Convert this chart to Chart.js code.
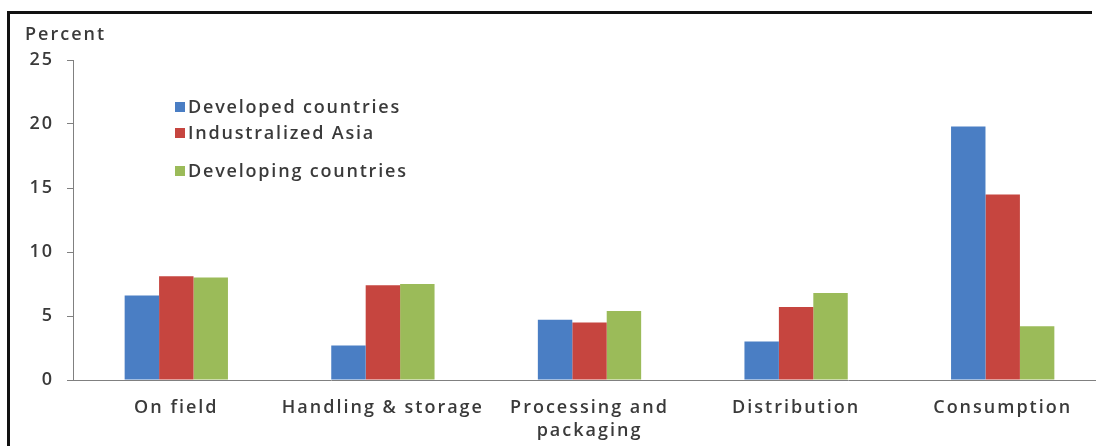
<!DOCTYPE html>
<html>
<head>
<meta charset="utf-8">
<script src="https://cdn.jsdelivr.net/npm/chart.js@4"></script>
<style>
  html, body { margin: 0; padding: 0; background: #fff; overflow: hidden; }
  body { width: 1096px; height: 446px; position: relative; font-family: "Open Sans", sans-serif; }
  #frame { position: absolute; left: 7px; top: 11px; width: 1085px; height: 435px;
           border-left: 3px solid #111; border-top: 3px solid #111; box-sizing: border-box; }
  #wrap { position: absolute; left: 0; top: 0; width: 1096px; height: 446px; overflow: hidden; }
  #ytitle { position: absolute; left: 25px; top: 21px; font-size: 18px; font-weight: 600; letter-spacing: 2px; color: #3a3a3a; }
  #legend { position: absolute; left: 175px; top: 0; font-size: 18px; font-weight: 600; letter-spacing: 1.8px; color: #3a3a3a; }
  #legend .item { position: absolute; white-space: nowrap; line-height: 22px; }
  #legend .box { display: inline-block; width: 10px; height: 10px; margin-right: 3px; vertical-align: 1px; }
</style>
</head>
<body>
<div id="frame"></div>
<div id="wrap"><canvas id="chart" width="1106" height="446"></canvas></div>
<div id="ytitle">Percent</div>
<div id="legend"></div>
<script>
// 카테고리 / 시리즈 데이터
const categories = ['On field', 'Handling & storage', ['Processing and', 'packaging'], 'Distribution', 'Consumption'];
const seriesNames = ['Developed countries', 'Industralized Asia', 'Developing countries'];
const developed = [6.6, 2.7, 4.7, 3.0, 19.8];
const industAsia = [8.1, 7.4, 4.5, 5.7, 14.5];
const developing = [8.0, 7.5, 5.4, 6.8, 4.2];
const yTicks = [0, 5, 10, 15, 20, 25];

const COLORS = ['#4a7ec4', '#c6453f', '#9bbb59'];
const legendTops = [95, 121, 159];

// 원본 이미지처럼 글자 간격을 넓힘
const spacingPlugin = {
  id: 'spacing',
  beforeDraw(chart) { chart.ctx.letterSpacing = '2px'; }
};

const tickFont = { family: 'Open Sans', size: 18, weight: 600, lineHeight: 1.25 };

const ctx = document.getElementById('chart').getContext('2d');
const chart = new Chart(ctx, {
  type: 'bar',
  data: {
    labels: categories,
    datasets: [developed, industAsia, developing].map((d, i) => ({
      label: seriesNames[i],
      data: d,
      backgroundColor: COLORS[i],
      borderWidth: 0,
      barPercentage: 1.0,
      categoryPercentage: 0.5,
    }))
  },
  options: {
    responsive: false,
    animation: false,
    layout: { padding: { top: 60, left: 0, right: 0, bottom: 0 } },
    plugins: { legend: { display: false }, tooltip: { enabled: false } },
    scales: {
      x: {
        grid: { display: false },
        border: { display: true, color: '#808080', width: 1 },
        ticks: { color: '#3a3a3a', font: tickFont, padding: 9, maxRotation: 0, autoSkip: false },
        afterFit: (s) => { s.height = 66; }
      },
      y: {
        min: 0, max: 25,
        afterBuildTicks: (s) => { s.ticks = yTicks.map(v => ({ value: v })); },
        grid: { drawOnChartArea: false, drawTicks: true, tickLength: 6, color: '#808080' },
        border: { display: true, color: '#808080', width: 1 },
        ticks: { color: '#3a3a3a', font: tickFont, padding: 13 },
        afterFit: (s) => { s.width = 73; }
      }
    }
  },
  plugins: [spacingPlugin]
});

// 범례 (HTML)
const legendEl = document.getElementById('legend');
chart.data.datasets.forEach((ds, i) => {
  const item = document.createElement('div');
  item.className = 'item';
  item.style.top = legendTops[i] + 'px';
  item.innerHTML = `<span class="box" style="background:${ds.backgroundColor}"></span>${ds.label}`;
  legendEl.appendChild(item);
});
</script>
</body>
</html>
